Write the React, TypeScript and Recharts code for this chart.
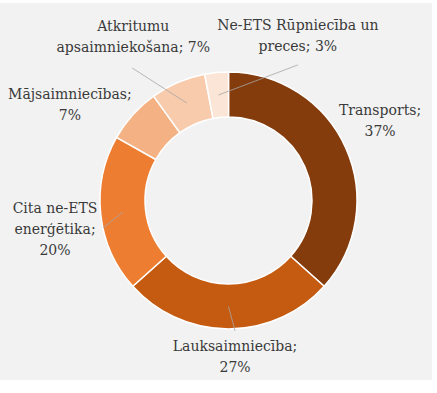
import React from 'react';
import { PieChart, Pie, Cell } from 'recharts';

const categories = [
  'Transports',
  'Lauksaimniecība',
  'Cita ne-ETS enerģētika',
  'Mājsaimniecības',
  'Atkritumu apsaimniekošana',
  'Ne-ETS Rūpniecība un preces',
];
const shares = [37, 27, 20, 7, 7, 3];
// how each label is broken into lines
const labelLines = [
  ['Transports;', '37%'],
  ['Lauksaimniecība;', '27%'],
  ['Cita ne-ETS', 'enerģētika;', '20%'],
  ['Mājsaimniecības;', '7%'],
  ['Atkritumu', 'apsaimniekošana; 7%'],
  ['Ne-ETS Rūpniecība un', 'preces; 3%'],
];

const colors = ['#843c0c', '#c55a11', '#ed7d31', '#f4b183', '#f8cbad', '#fbe5d6'];

// label placement: angle nudge (deg) from the slice middle, distance from centre,
// and where the leader line ends relative to the label centre (null = no line)
const labelLayout: { nudge: number; r: number; lead: [number, number] | null }[] = [
  { nudge: 3.9, r: 171.6, lead: null },
  { nudge: 2.4, r: 156.6, lead: [0, -26] },
  { nudge: 3.1, r: 175.8, lead: [48, -1] },
  { nudge: 10.6, r: 185.6, lead: null },
  { nudge: 6.9, r: 190, lead: [-1, 32] },
  { nudge: -28.2, r: 178.6, lead: [0, 29] },
];

const data = categories.map((name, i) => ({ name, value: shares[i] }));

const RAD = Math.PI / 180;
const FONT = '"DejaVu Serif", serif';
const LINE_H = 21;

const renderLabel = (props: any) => {
  const { cx, cy, midAngle, innerRadius, outerRadius, index } = props;
  const lay = labelLayout[index];
  const a = (midAngle + lay.nudge) * RAD;
  const lx = cx + lay.r * Math.cos(a);
  const ly = cy - lay.r * Math.sin(a);
  const lines = labelLines[index];
  const top = ly - ((lines.length - 1) * LINE_H) / 2;

  let leader = null;
  if (lay.lead) {
    const mr = (innerRadius + outerRadius) / 2;
    const sx = cx + mr * Math.cos(midAngle * RAD);
    const sy = cy - mr * Math.sin(midAngle * RAD);
    leader = (
      <line
        x1={sx}
        y1={sy}
        x2={lx + lay.lead[0]}
        y2={ly + lay.lead[1]}
        stroke="#a6a6a6"
        strokeWidth={0.8}
      />
    );
  }

  return (
    <g key={`lbl-${index}`}>
      {leader}
      <text
        x={lx}
        y={top}
        textAnchor="middle"
        dominantBaseline="central"
        fill="#3a3a3a"
        fontSize={14}
        fontFamily={FONT}
      >
        {lines.map((t, j) => (
          <tspan key={j} x={lx} y={top + j * LINE_H}>
            {t}
          </tspan>
        ))}
      </text>
    </g>
  );
};

export default function App() {
  return (
    <div style={{ position: 'absolute', left: 0, top: 0, width: 437, height: 393, background: '#fff' }}>
      <div style={{ position: 'absolute', left: 0, top: 3, width: 432, height: 377, background: '#f2f2f2' }}>
        <PieChart width={432} height={377} margin={{ top: 0, right: 0, bottom: 0, left: 0 }}>
          <Pie
            data={data}
            dataKey="value"
            nameKey="name"
            cx={228.5}
            cy={197.5}
            innerRadius={83.5}
            outerRadius={128.5}
            startAngle={90}
            endAngle={-270}
            stroke="#ffffff"
            strokeWidth={1.5}
            label={renderLabel}
            labelLine={false}
            isAnimationActive={false}
          >
            {data.map((d, i) => (
              <Cell key={d.name} fill={colors[i]} />
            ))}
          </Pie>
        </PieChart>
      </div>
    </div>
  );
}
